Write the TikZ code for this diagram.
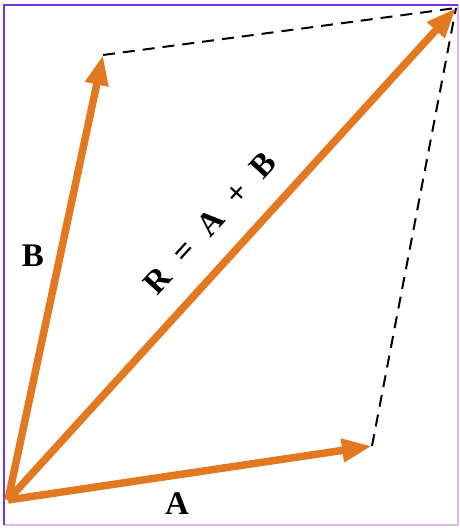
\documentclass[tikz,border=0pt]{standalone}
\usepackage{fontspec}
\setmainfont{Liberation Serif}
\usetikzlibrary{arrows.meta}
\definecolor{vecorange}{RGB}{226,121,32}
\definecolor{framepurple}{RGB}{120,50,230}
\definecolor{framelight}{RGB}{215,185,240}
\tikzset{
  vec/.style={draw=vecorange, line width=7.5pt, -{Triangle[length=30pt,width=22pt]}},
  guide/.style={draw=black, line width=2pt, dash pattern=on 12pt off 8pt},
  lbl/.style={font=\fontsize{33}{36}\selectfont\bfseries, text=black, inner sep=0pt}
}
\begin{document}
\begin{tikzpicture}[x=1pt,y=-1pt]
\useasboundingbox (0,0) rectangle (459,528);
\fill[white] (0,0) rectangle (459,528);
% frame
\draw[framelight, line width=1.5pt] (458,5) -- (458,525) -- (4,525);
\draw[framepurple, line width=1.5pt] (4,525) -- (4,5) -- (458,5);
% points
\coordinate (O) at (8,500);
\coordinate (Atip) at (372,446);
\coordinate (Btip) at (103,55);
\coordinate (Rtip) at (456,8);
% dashed guides
\draw[guide] (Btip) -- (Rtip);
\draw[guide] (Atip) -- (Rtip);
% vectors
\draw[vec] (O) -- (Rtip);
\draw[vec] (O) -- (Atip);
\draw[vec] (O) -- (Btip);
% labels
\node[lbl] (labB) at (33,256) {B};
\node[lbl] (labA) at (177,504) {A};
\node[lbl, rotate=47.6] (labR) at (210,223) {R\hspace{0.55em}=\hspace{0.55em}A\hspace{0.55em}+\hspace{0.55em}B};
\end{tikzpicture}
\end{document}
